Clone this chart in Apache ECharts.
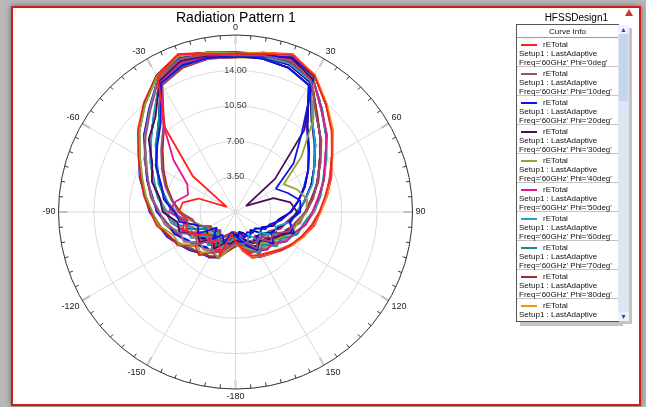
<!DOCTYPE html>
<html>
<head>
<meta charset="utf-8">
<script src="https://cdn.jsdelivr.net/npm/echarts@6/dist/echarts.min.js"></script>
<style>
  html, body { margin: 0; padding: 0; }
  body { width: 646px; height: 407px; background: #b9b9b9; position: relative; overflow: hidden; font-family: "Liberation Sans", Arial, sans-serif; }
  #frame { position: absolute; left: 11px; top: 6px; width: 626px; height: 396px; border: 2px solid #d21c1c; background: #fff; box-shadow: 0 0 6px #666; }
  #chart { position: absolute; left: 0; top: 0; width: 646px; height: 407px; }
  #logo { position: absolute; left: 625px; top: 9px; width: 0; height: 0; border-left: 4px solid transparent; border-right: 4px solid transparent; border-bottom: 7px solid #d03030; }
  #legend { position: absolute; left: 516px; top: 24px; width: 101px; height: 296px; border: 1px solid #555; background: #fff; overflow: hidden; box-shadow: 4px 4px 0 #c4c4c4; font-size: 8px; color: #111; }
  #legend .hdr { height: 12px; line-height: 13px; text-align: center; border-bottom: 1px solid #999; }
  #legend .ent { border-bottom: 1px solid #c4c4c4; padding-top: 2px; box-sizing: border-box; height: 29px; }
  #legend .row { height: 9px; line-height: 9px; padding-left: 2px; white-space: nowrap; }
  #legend .sw { display: inline-block; width: 16px; height: 2px; margin: 0 6px 0 2px; vertical-align: middle; }
  #scroll { position: absolute; left: 618px; top: 25px; width: 11px; height: 296px; background: #dde5f3; box-shadow: 3px 3px 0 #c4c4c4; }
  #scroll .thumb { position: absolute; left: 1px; top: 9px; width: 9px; height: 67px; background: #c3d5f1; }
  #scroll .up, #scroll .dn { position: absolute; left: 0; width: 11px; height: 9px; font-size: 7px; line-height: 9px; text-align: center; color: #1f4fc4; background: #edf2fa; }
  #scroll .up { top: 0; }
  #scroll .dn { bottom: 0; }
</style>
</head>
<body>
<div id="frame"></div>
<div id="chart"></div>
<div id="logo"></div>
<div id="legend"><div class="hdr">Curve Info</div></div>
<div id="scroll"><div class="up">&#9650;</div><div class="thumb"></div><div class="dn">&#9660;</div></div>
<script>
// theta sweep in degrees, one sample every 10 deg
const theta = [-180,-170,-160,-150,-140,-130,-120,-110,-100,-90,-80,-70,-60,-50,-40,-30,-20,-10,0,10,20,30,40,50,60,70,80,90,100,110,120,130,140,150,160,170,180];
const phiDeg = [0,10,20,30,40,50,60,70,80,90,100,110,120,130,140,150,160,170,180,190,200,210,220,230,240,250,260,270,280,290,300,310,320,330,340,350];
const radiusTicks = [0, 3.5, 7, 10.5, 14, 17.5];
const angleTicks = [0,30,60,90,120,150,180,210,240,270,300,330,360];
const traceColors = ['#ff2020','#94507a','#0a14f0','#4b0a5a','#a0a030','#e6178c','#1fa3d1','#0c9090','#a52a2a','#ff8c1a','#8a8a8a','#00008b'];

// rETotal per phi cut
const rPhi0   = [3.0,2.2,4.6,3.2,4.0,3.4,4.6,5.2,4.8,5.6,5.3,3.9,1.0,5.5,10.8,15.4,16.6,15.9,15.6,15.9,16.5,15.6,13.9,12.4,11.0,10.0,9.0,8.3,7.7,7.0,6.4,5.8,5.2,4.9,4.6,3.6,3.0];
const rPhi10  = [3.1,3.5,4.0,4.7,3.6,5.1,4.4,6.1,6.8,7.6,8.5,9.2,10.4,11.6,13.1,15.2,16.1,15.8,15.5,15.7,15.9,15.0,12.4,11.1,9.7,8.6,7.8,6.9,6.0,5.6,4.3,4.5,3.4,4.2,3.2,3.3,3.1];
const rPhi20  = [2.4,2.0,3.3,2.6,3.5,2.4,4.3,3.9,5.6,6.0,7.2,7.8,9.1,10.1,11.5,14.7,15.4,15.5,15.4,15.6,16.3,15.5,10.2,7.5,4.6,5.5,6.5,6.4,5.4,6.2,4.1,4.9,3.3,4.4,3.6,2.8,2.4];
const rPhi30  = [2.8,3.2,3.3,4.2,3.6,4.6,4.4,5.9,5.8,7.2,7.6,8.8,9.5,11.2,12.3,15.0,15.9,15.7,15.6,15.8,16.2,15.2,10.6,5.1,1.2,4.0,5.5,6.1,5.5,5.9,4.8,4.2,3.7,4.3,3.2,3.0,2.8];
const rPhi40  = [3.2,3.7,4.9,4.4,5.3,5.0,6.4,6.6,7.7,8.2,9.0,9.8,10.9,12.4,13.9,15.5,16.4,16.0,15.7,15.9,16.4,15.4,12.0,8.5,5.5,6.5,7.2,7.0,6.2,6.0,5.1,4.6,4.0,4.4,3.9,3.5,3.2];
const rPhi50  = [2.9,3.4,3.9,4.4,3.2,4.7,4.1,5.6,5.1,6.6,6.0,5.0,5.5,8.0,11.0,14.9,15.7,15.6,15.5,15.8,16.1,15.3,13.2,11.8,10.2,9.3,8.3,7.6,7.1,6.1,5.8,4.7,4.9,4.2,4.3,3.3,2.9];
const rPhi60  = [2.6,2.9,3.8,3.2,4.3,3.5,5.1,4.6,6.4,6.7,7.8,8.5,9.7,10.9,12.6,15.0,15.8,15.7,15.5,15.6,15.6,14.9,11.8,10.3,9.0,8.1,7.0,6.0,5.6,4.2,4.7,3.1,3.8,2.6,3.4,2.6,2.6];
const rPhi70  = [2.5,2.6,3.0,3.9,2.7,3.9,3.3,5.0,4.9,6.3,6.9,8.1,8.9,10.3,11.8,14.8,15.6,15.6,15.5,15.8,16.2,15.3,13.3,11.7,10.3,9.2,8.5,7.6,6.8,6.5,5.2,5.3,4.1,4.8,3.9,3.2,2.5];
const rPhi80  = [3.4,3.9,4.7,5.1,5.2,5.8,6.3,7.1,7.6,8.3,9.1,9.9,11.0,12.4,14.0,15.6,16.5,16.0,15.8,15.7,15.8,15.0,12.6,11.0,9.6,8.7,7.6,6.9,6.3,5.3,5.2,3.9,4.1,3.4,3.8,2.8,3.4];
const rPhi90  = [2.7,3.1,3.6,4.3,3.7,4.5,4.9,5.2,6.3,6.8,7.8,8.6,9.7,11.1,12.4,15.1,15.9,15.7,15.6,15.9,16.5,15.7,14.0,12.6,11.1,10.0,9.2,8.4,7.7,7.2,6.4,5.7,5.2,4.9,4.7,3.6,2.7];
const rPhi100 = [3.0,3.2,4.3,4.2,4.9,4.6,5.9,5.8,7.1,7.5,8.4,9.2,10.2,11.7,13.2,15.3,16.1,15.8,15.6,15.9,16.2,15.3,13.3,11.8,10.4,9.3,8.5,7.8,7.0,6.4,5.5,5.1,4.3,4.6,4.1,3.5,3.0];
const rPhi110 = [2.2,2.6,2.9,3.7,3.0,3.6,3.3,4.9,5.1,6.2,7.0,7.9,9.0,10.2,11.8,14.8,15.5,15.5,15.4,15.6,15.5,14.8,11.7,10.3,9.0,8.0,7.0,6.1,5.4,4.5,4.1,3.3,3.2,3.6,3.0,2.6,2.2];
const rPhi120 = [3.2,3.6,4.9,4.6,5.6,5.2,6.6,6.9,7.9,8.4,9.2,10.0,11.1,12.6,14.1,15.6,16.6,16.0,15.7,15.8,15.9,15.0,12.5,11.0,9.6,8.6,7.7,7.0,6.0,5.8,4.5,5.0,3.6,4.4,3.3,3.4,3.2];
const rPhi130 = [2.1,2.2,2.6,3.0,2.3,2.9,3.0,4.0,4.4,5.6,6.4,7.4,8.4,9.6,11.1,14.5,15.3,15.4,15.3,15.9,16.4,15.6,13.9,12.5,11.0,9.9,9.1,8.3,7.6,7.0,6.4,5.9,5.3,5.0,4.8,3.7,2.1];
const rPhi140 = [3.0,3.4,4.1,4.6,4.5,5.1,5.5,6.4,6.8,7.8,8.3,9.3,10.2,11.8,13.3,15.3,16.2,15.8,15.5,15.4,15.2,14.5,11.0,9.4,8.3,7.2,6.3,5.4,4.6,3.6,3.4,2.5,2.7,2.3,2.7,2.1,3.0];
const rPhi150 = [2.6,3.0,3.7,3.8,4.2,3.9,5.0,5.3,6.4,6.9,7.6,8.7,9.6,11.0,12.5,15.0,15.8,15.7,15.5,15.7,15.8,15.0,12.5,11.0,9.6,8.7,7.7,6.9,6.2,5.5,4.6,4.3,3.8,4.0,3.6,2.8,2.6];
const rPhi160 = [2.4,2.5,3.2,3.3,3.4,3.1,4.2,4.4,5.5,6.1,7.1,8.0,9.1,10.2,11.7,14.8,15.5,15.6,15.4,15.8,16.2,15.3,13.2,11.8,10.3,9.3,8.4,7.7,7.0,6.3,5.6,5.1,4.6,4.5,4.3,3.3,2.4];
const rPhi170 = [3.1,3.3,4.3,4.4,4.8,4.8,5.8,6.1,7.1,7.6,8.5,9.3,10.3,11.8,13.2,15.3,16.2,15.9,15.6,15.6,15.5,14.8,11.8,10.2,9.0,8.0,7.0,6.2,5.2,4.8,3.9,4.1,3.0,3.5,2.9,2.5,3.1];
const rPhi180 = [2.8,3.0,3.5,4.1,3.9,4.4,4.7,5.6,6.0,7.0,7.7,8.6,9.7,11.0,12.4,15.0,15.9,15.7,15.5,15.8,16.1,15.3,13.2,11.7,10.3,9.3,8.4,7.7,6.9,6.4,5.5,5.0,4.6,4.4,4.2,3.4,2.8];
const rPhi190 = [3.4,3.7,4.7,5.0,5.4,5.6,6.5,7.0,7.8,8.3,9.0,10.0,10.9,12.4,13.9,15.5,16.4,16.0,15.7,15.6,15.5,14.8,11.8,10.3,9.0,8.0,7.0,6.2,5.3,4.7,3.8,3.6,3.2,3.5,3.0,2.4,3.4];
const rPhi200 = [2.0,2.1,2.4,3.1,2.4,3.0,2.8,4.1,4.3,5.5,6.3,7.2,8.2,9.4,11.0,14.5,15.2,15.4,15.3,15.7,15.8,15.1,12.5,11.0,9.7,8.6,7.8,7.0,6.1,5.6,4.6,4.4,3.7,4.1,3.5,2.9,2.0];
const rPhi210 = [3.0,3.4,4.2,4.5,4.8,5.0,5.6,6.4,7.0,7.7,8.4,9.3,10.3,11.8,13.3,15.3,16.2,15.9,15.7,16.0,16.5,15.6,14.0,12.5,11.0,10.0,9.1,8.4,7.8,7.0,6.5,5.7,5.4,5.0,4.8,3.8,3.0];
const rPhi220 = [2.3,2.4,3.3,2.9,3.6,2.7,4.4,3.9,5.6,5.8,7.0,7.9,9.0,10.3,11.7,14.8,15.5,15.5,15.4,15.7,15.9,15.0,12.5,11.0,9.6,8.6,7.7,6.9,6.5,5.2,5.7,4.0,4.6,3.4,4.2,2.6,2.3];
const rPhi230 = [2.7,2.8,3.7,3.6,4.2,4.0,5.0,5.2,6.2,6.9,7.7,8.7,9.6,11.0,12.5,15.0,15.8,15.7,15.4,15.4,15.2,14.5,11.1,9.5,8.3,7.3,6.3,5.5,4.3,4.0,3.0,3.2,2.3,2.9,2.2,2.0,2.7];
const rPhi240 = [2.4,2.5,3.0,3.6,3.1,3.5,4.0,4.5,5.4,6.2,7.1,8.0,9.0,10.2,11.8,14.8,15.5,15.6,15.5,16.0,16.6,15.6,13.9,12.5,11.0,10.1,9.2,8.4,7.9,7.1,6.5,5.9,5.4,5.1,4.8,3.9,2.4];
const rPhi250 = [2.6,3.0,3.6,4.1,3.8,4.4,4.6,5.6,6.1,7.0,7.7,8.6,9.6,11.0,12.5,15.0,15.9,15.7,15.5,15.5,15.5,14.8,11.8,10.2,9.0,8.0,7.0,6.2,5.3,4.6,4.0,3.7,3.2,3.3,3.1,2.5,2.6];
const rPhi260 = [3.3,3.8,4.8,5.2,5.3,5.9,6.4,7.2,7.7,8.5,9.1,10.1,11.0,12.5,14.0,15.6,16.5,16.0,15.8,15.9,16.2,15.3,13.3,11.7,10.3,9.3,8.4,7.7,7.0,6.2,5.8,4.9,4.8,4.5,4.3,3.4,3.3];
const rPhi270 = [2.9,3.3,4.2,4.6,4.6,5.0,5.7,6.2,7.0,7.6,8.4,9.3,10.3,11.7,13.2,15.3,16.2,15.8,15.6,15.7,15.8,15.0,12.5,11.0,9.6,8.6,7.7,6.9,6.1,5.4,4.9,4.2,4.0,3.9,3.6,2.9,2.9];
const rPhi280 = [2.0,2.0,2.5,2.7,2.6,2.5,3.3,3.7,4.6,5.4,6.3,7.3,8.3,9.5,11.0,14.5,15.2,15.4,15.3,15.5,15.5,14.8,11.7,10.2,9.0,8.0,7.0,6.2,5.4,4.5,4.1,3.4,3.3,3.3,3.1,2.4,2.0];
const rPhi290 = [3.3,3.8,4.8,5.1,5.4,5.7,6.5,7.1,7.8,8.4,9.1,10.0,11.0,12.5,14.0,15.6,16.5,16.0,15.6,15.4,15.2,14.5,11.0,9.5,8.3,7.3,6.3,5.5,4.5,3.8,3.2,2.6,2.5,2.8,2.5,2.0,3.3];
const rPhi300 = [2.3,2.5,3.1,3.4,3.2,3.4,4.0,4.6,5.3,6.2,7.0,8.0,9.0,10.3,11.7,14.8,15.5,15.5,15.4,15.7,15.8,15.0,12.5,11.0,9.6,8.6,7.7,7.0,6.2,5.4,4.8,4.2,3.9,4.0,3.6,2.9,2.3];
const rPhi310 = [3.0,3.4,4.2,4.5,4.7,5.0,5.7,6.3,7.0,7.7,8.4,9.3,10.3,11.8,13.2,15.3,16.2,15.8,15.6,15.8,16.2,15.3,13.2,11.7,10.3,9.3,8.4,7.7,7.0,6.3,5.7,5.0,4.7,4.5,4.2,3.4,3.0];
const rPhi320 = [2.6,2.9,3.7,3.9,4.0,4.2,4.8,5.4,6.1,6.9,7.7,8.6,9.6,11.0,12.5,15.0,15.8,15.7,15.6,16.0,16.5,15.6,14.0,12.5,11.0,10.0,9.1,8.4,7.8,7.1,6.5,5.8,5.4,5.1,4.8,3.8,2.6];
const rPhi330 = [2.3,2.5,3.1,3.4,3.2,3.4,4.0,4.6,5.3,6.2,7.0,8.0,9.0,10.2,11.7,14.8,15.5,15.6,15.5,15.8,16.2,15.3,13.2,11.8,10.3,9.3,8.4,7.7,7.0,6.3,5.7,5.0,4.7,4.5,4.2,3.4,2.3];
const rPhi340 = [3.3,3.8,4.8,5.1,5.4,5.8,6.5,7.1,7.8,8.4,9.1,10.0,11.0,12.5,14.0,15.6,16.5,16.0,15.7,15.7,15.8,15.0,12.5,11.0,9.6,8.6,7.7,6.9,6.1,5.4,4.8,4.2,3.9,3.9,3.6,2.9,3.3];
const rPhi350 = [2.6,2.9,3.6,4.0,3.9,4.2,4.9,5.5,6.2,6.9,7.7,8.6,9.6,11.0,12.5,15.0,15.8,15.7,15.5,15.5,15.5,14.8,11.8,10.3,9.0,8.0,7.0,6.2,5.3,4.6,4.0,3.4,3.2,3.4,3.1,2.5,2.6];

const rETotal = [rPhi0,rPhi10,rPhi20,rPhi30,rPhi40,rPhi50,rPhi60,rPhi70,rPhi80,rPhi90,rPhi100,rPhi110,rPhi120,rPhi130,rPhi140,rPhi150,rPhi160,rPhi170,
                 rPhi180,rPhi190,rPhi200,rPhi210,rPhi220,rPhi230,rPhi240,rPhi250,rPhi260,rPhi270,rPhi280,rPhi290,rPhi300,rPhi310,rPhi320,rPhi330,rPhi340,rPhi350];

// legend list (html, scrolled to the top like the HFSS curve info box)
let legendBox = document.getElementById('legend');
phiDeg.forEach((p, k) => {
  let ent = document.createElement('div');
  ent.className = 'ent';
  ent.innerHTML = '<div class="row"><span class="sw" style="background:' + traceColors[k % traceColors.length] + '"></span>rETotal</div>' +
    '<div class="row">Setup1 : LastAdaptive</div>' +
    '<div class="row">Freq=\'60GHz\' Phi=\'' + p + 'deg\'</div>';
  legendBox.appendChild(ent);
});

let myChart = echarts.init(document.getElementById('chart'), null, { renderer: 'canvas' });

// angle axis runs 0..360 clockwise from the top, labels shown as -180..150
let series = [];
for (let k = rETotal.length - 1; k >= 0; k--) {
  series.push({
    name: 'rETotal Phi=' + phiDeg[k] + 'deg',
    type: 'line',
    coordinateSystem: 'polar',
    symbol: 'none',
    animation: false,
    lineStyle: { width: 1.8, color: traceColors[k % traceColors.length] },
    data: theta.map((t, i) => [rETotal[k][i], (t + 360) % 360])
  });
}

let option = {
  animation: false,
  title: [
    { text: 'Radiation Pattern 1', left: 171, top: 6,
      textStyle: { fontSize: 14, fontWeight: 'normal', color: '#000', fontFamily: 'Liberation Sans' } },
    { text: 'HFSSDesign1', right: 33, top: 8,
      textStyle: { fontSize: 10, fontWeight: 'normal', color: '#000', fontFamily: 'Liberation Sans' } }
  ],
  polar: { center: [235.5, 212], radius: 177 },
  angleAxis: {
    type: 'value',
    min: angleTicks[0],
    max: angleTicks[angleTicks.length - 1],
    interval: 30,
    startAngle: 90,
    clockwise: true,
    axisLine: { lineStyle: { color: '#3a3a3a', width: 1 } },
    axisTick: { show: true, inside: true, length: 9, lineStyle: { color: '#8c8c8c', width: 1.5 } },
    minorTick: { show: true, splitNumber: 6, length: 4, lineStyle: { color: '#3a3a3a', width: 1 } },
    axisLabel: {
      margin: 3, fontSize: 9, color: '#222', fontFamily: 'Liberation Sans',
      formatter: v => String(v >= 180 ? v - 360 : v)
    },
    splitLine: { show: true, lineStyle: { color: '#dadada', width: 1 } }
  },
  radiusAxis: {
    type: 'value',
    min: radiusTicks[0],
    max: radiusTicks[radiusTicks.length - 1],
    interval: 3.5,
    axisLine: { show: false },
    axisTick: { show: false },
    axisLabel: {
      margin: 0, align: 'center', verticalAlign: 'middle',
      fontSize: 9, color: '#444', fontFamily: 'Liberation Sans',
      formatter: v => (v === 0 || v === 17.5) ? '' : v.toFixed(2)
    },
    splitLine: { show: true, lineStyle: { color: '#dadada', width: 1 } }
  },
  series
};
myChart.setOption(option);
</script>
</body>
</html>
